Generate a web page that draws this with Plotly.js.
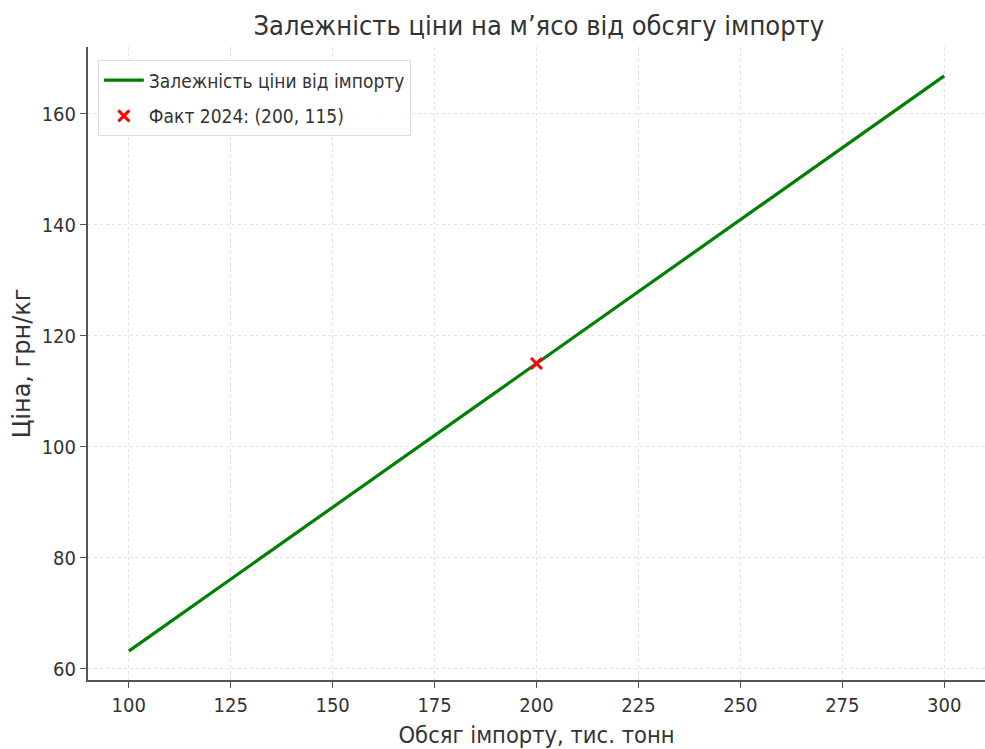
<!DOCTYPE html>
<html>
<head>
<meta charset="utf-8">
<script src="https://cdn.plot.ly/plotly-3.0.1.min.js"></script>
<style>html,body{margin:0;padding:0;background:#fff;}#chart{width:985px;height:749px;}</style>
</head>
<body>
<div id="chart"></div>
<script>
// Data
const importVolume = [100, 200, 300];          // тис. тонн
const priceValues = [63.2, 115, 166.8];         // грн/кг
const factX = [200];
const factY = [115];
const lineName = "Залежність ціни від імпорту";
const factName = "Факт 2024: (200, 115)";
const xTicks = [100, 125, 150, 175, 200, 225, 250, 275, 300];
const yTicks = [60, 80, 100, 120, 140, 160];

const cond = "DejaVu Sans Condensed, Liberation Sans Narrow, DejaVu Sans, sans-serif";

const traces = [
  {
    x: importVolume, y: priceValues, type: "scatter", mode: "lines",
    name: lineName, legendgroup: "a", line: {color: "#008000", width: 3.2}
  },
  {
    x: factX, y: factY, type: "scatter", mode: "markers",
    name: factName, legendgroup: "b",
    marker: {symbol: "x-thin", size: 11, color: "#ff0000", line: {color: "#ff0000", width: 3}}
  }
];

const layout = {
  width: 985, height: 749,
  margin: {l: 88, r: 0, t: 47, b: 69},
  paper_bgcolor: "#fff", plot_bgcolor: "#fff",
  font: {family: cond, color: "#333", size: 20},
  title: {text: "Залежність ціни на м’ясо від обсягу імпорту", font: {family: cond, size: 27, color: "#333"},
          x: 0.547, xanchor: "center", y: 0.966, yanchor: "middle"},
  xaxis: {
    range: [90, 310], tickvals: xTicks, ticktext: xTicks.map(String),
    showgrid: true, gridcolor: "#e3e3e3", griddash: "3px,3px", gridwidth: 1,
    zeroline: false, showline: true, linecolor: "#555", linewidth: 2,
    ticks: "outside", ticklen: 6, tickcolor: "#555", tickwidth: 1,
    tickfont: {family: cond, size: 20, color: "#333"},
    title: {text: "Обсяг імпорту, тис. тонн", font: {family: cond, size: 23.5, color: "#333"}, standoff: 12}
  },
  yaxis: {
    range: [58, 172], tickvals: yTicks, ticktext: yTicks.map(String),
    showgrid: true, gridcolor: "#e3e3e3", griddash: "3px,3px", gridwidth: 1,
    zeroline: false, showline: true, linecolor: "#555", linewidth: 2,
    ticks: "outside", ticklen: 6, tickcolor: "#555", tickwidth: 1,
    tickfont: {family: cond, size: 20, color: "#333"},
    title: {text: "Ціна, грн/кг", font: {family: "DejaVu Sans, sans-serif", size: 24, color: "#333"}, standoff: 4}
  },
  showlegend: true,
  legend: {
    x: 0.011, y: 0.979, xanchor: "left", yanchor: "top",
    bgcolor: "rgba(255,255,255,0.9)", bordercolor: "#dddddd", borderwidth: 1,
    font: {family: cond, size: 19, color: "#333"}, tracegroupgap: 8, itemwidth: 40
  }
};

Plotly.newPlot("chart", traces, layout, {displayModeBar: false, staticPlot: true});
</script>
</body>
</html>
